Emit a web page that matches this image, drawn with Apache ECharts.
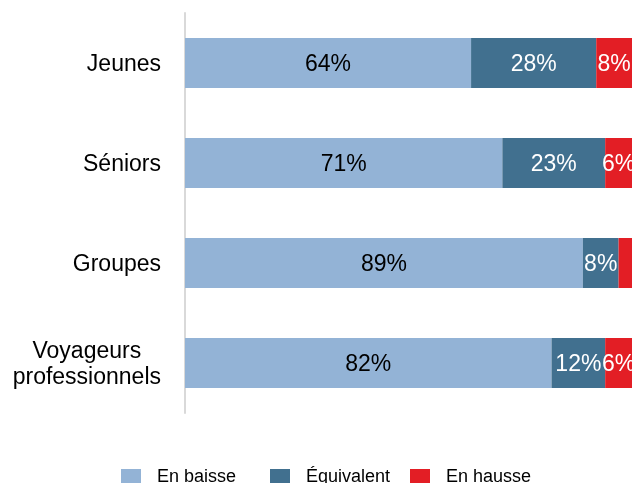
<!DOCTYPE html>
<html>
<head>
<meta charset="utf-8">
<script src="https://cdn.jsdelivr.net/npm/echarts@6/dist/echarts.min.js"></script>
<style>
  html, body { margin: 0; padding: 0; background: #fff; }
  #chart { width: 632px; height: 483px; }
</style>
</head>
<body>
<div id="chart"></div>
<script>
const categories = ['Jeunes', 'Séniors', 'Groupes', 'Voyageurs\nprofessionnels'];
const seriesNames = ['En baisse', 'Équivalent', 'En hausse'];
const enBaisse = [64, 71, 89, 82];
const equivalent = [28, 23, 8, 12];
const enHausse = [8, 6, 3, 6];

const colors = ['#93b3d6', '#41708f', '#e31e25'];
const font = 'Liberation Sans, Arial, sans-serif';

// hide labels on very thin segments
function withLabels(values, minShow) {
  return values.map(v => ({ value: v, label: { show: v >= minShow } }));
}

function makeSeries(name, values, color, labelColor) {
  return {
    name: name, type: 'bar', stack: 'total', barWidth: 50,
    itemStyle: { color: color },
    label: { show: true, position: 'inside', offset: [0, 2], color: labelColor, fontSize: 23, fontFamily: font, formatter: '{c}%' },
    data: withLabels(values, 4)
  };
}

// one legend per item so each sits where the original put it
const legendLeft = [121, 270, 410];
const legends = seriesNames.map((n, i) => ({
  top: 468,
  left: legendLeft[i],
  padding: 0,
  itemWidth: 20,
  itemHeight: 16,
  icon: 'rect',
  textStyle: { fontSize: 18, color: '#000', fontFamily: font, padding: [0, 0, 0, 11] },
  data: [n]
}));

var myChart = echarts.init(document.getElementById('chart'));
myChart.setOption({
  animation: false,
  textStyle: { fontFamily: font },
  grid: { left: 185, right: 0, top: 13, height: 400 },
  legend: legends,
  xAxis: {
    type: 'value',
    min: 0,
    max: 100,
    show: false
  },
  yAxis: {
    type: 'category',
    inverse: true,
    data: categories,
    axisLine: { lineStyle: { color: '#d9d9d9', width: 2 } },
    axisTick: { show: false },
    axisLabel: {
      margin: 24,
      align: 'right',
      padding: [4, 0, 0, 0],
      formatter: v => v.split('\n').map(s => '{c|' + s + '}').join('\n'),
      rich: { c: { fontSize: 23, color: '#000', fontFamily: font, align: 'center', lineHeight: 26 } }
    }
  },
  series: [
    makeSeries(seriesNames[0], enBaisse, colors[0], '#000'),
    makeSeries(seriesNames[1], equivalent, colors[1], '#fff'),
    makeSeries(seriesNames[2], enHausse, colors[2], '#fff')
  ]
});
</script>
</body>
</html>
